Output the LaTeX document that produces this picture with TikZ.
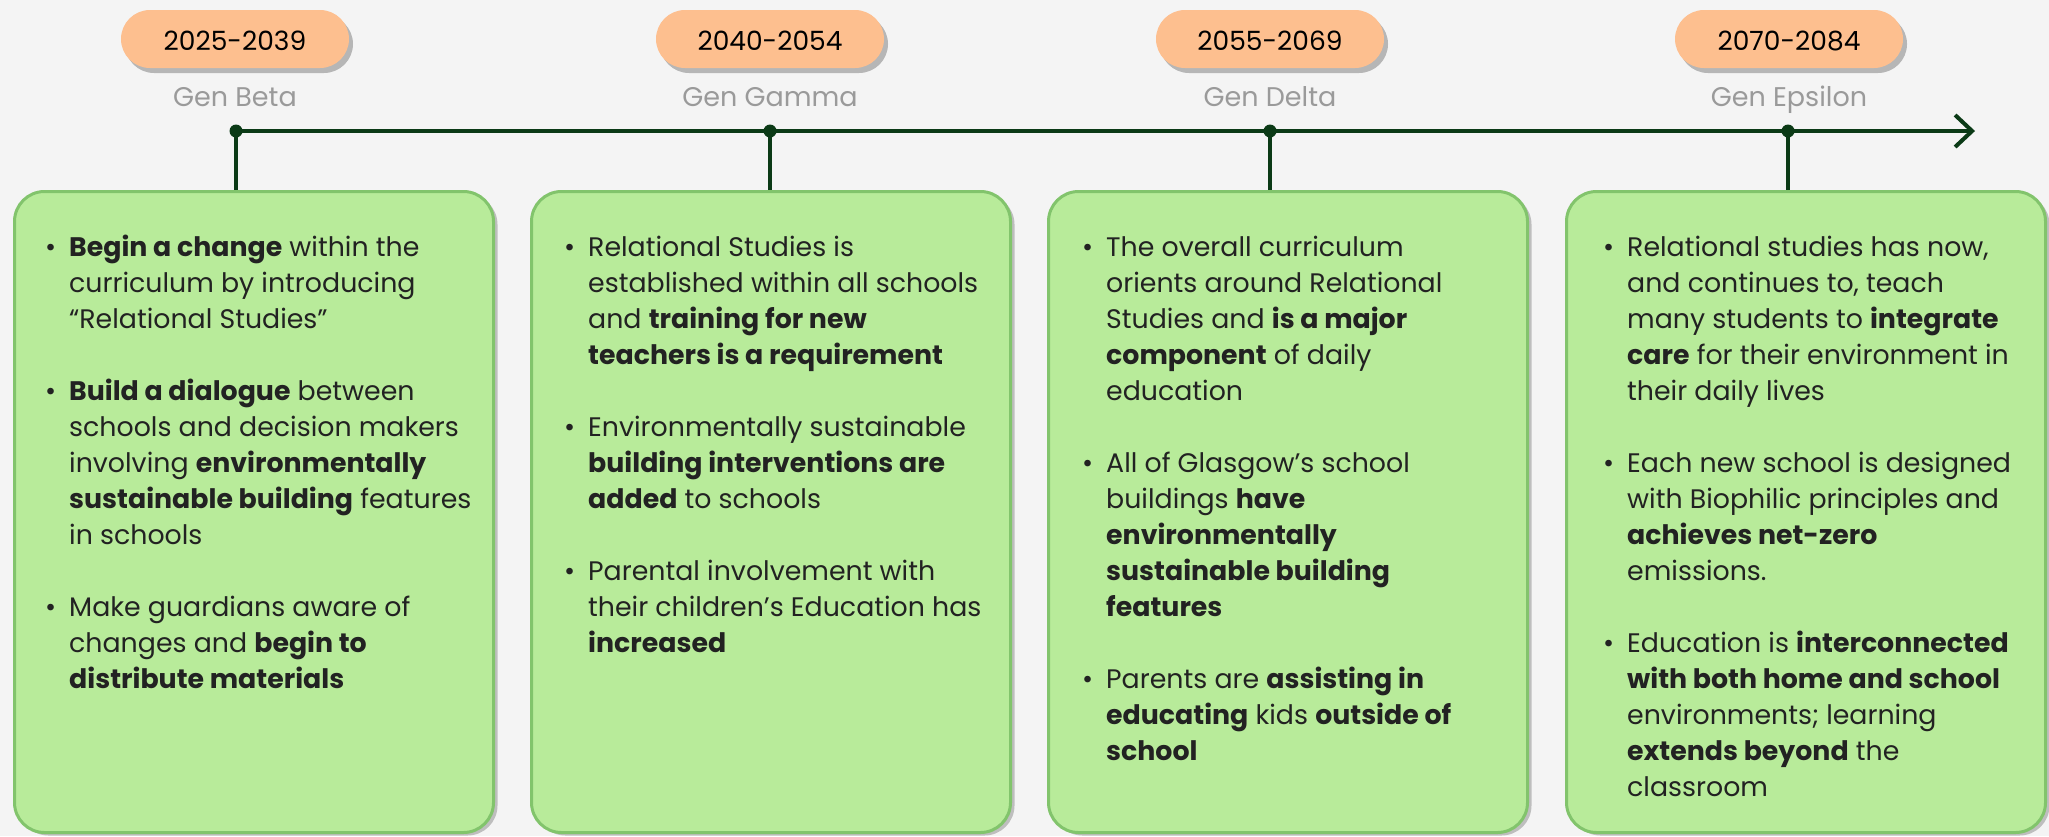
\documentclass[tikz,border=0pt]{standalone}
\usepackage{fontspec}
\setmainfont{Poppins}
\usetikzlibrary{arrows.meta,shadows}
\definecolor{bg}{HTML}{F4F4F4}
\definecolor{boxfill}{HTML}{B8EB9A}
\definecolor{boxline}{HTML}{82C46C}
\definecolor{pillfill}{HTML}{FDBF8F}
\definecolor{axiscol}{HTML}{0B3A16}
\definecolor{gentext}{HTML}{9A9A9A}
\definecolor{bodytext}{HTML}{222222}
\newcommand{\bpt}{\par\noindent\llap{\textbullet\hspace{13pt}}}
\newcommand{\bgap}{\par\vspace{36pt}}
\tikzset{
  phasebox/.style={draw=boxline, line width=3pt, fill=boxfill, rounded corners=30pt,
    minimum width=479pt, minimum height=641pt, anchor=north west, inner sep=0pt,
    drop shadow={shadow xshift=4pt, shadow yshift=-3pt, opacity=0.22, fill=black}},
  pill/.style={fill=pillfill, rounded corners=29pt, minimum width=228pt, minimum height=58pt,
    inner sep=0pt, drop shadow={shadow xshift=4pt, shadow yshift=-5pt, opacity=0.25, fill=black}},
  pilltext/.style={anchor=base, inner sep=0pt, text=black, font=\fontsize{26.5}{30}\selectfont},
  genlabel/.style={anchor=base, inner sep=0pt, text=gentext, font=\fontsize{27}{30}\selectfont},
  axisline/.style={draw=axiscol, line width=4pt},
  tickdot/.style={circle, fill=axiscol, minimum size=13pt, inner sep=0pt},
  bodytxt/.style={anchor=base west, inner sep=0pt, text=bodytext},
}
\newcommand{\bodybox}[1]{\parbox[t]{600pt}{\fontsize{26.8}{36}\selectfont\raggedright #1}}
\begin{document}
\begin{tikzpicture}[x=1pt,y=-1pt]
\fill[bg] (0,0) rectangle (2049,836);
\useasboundingbox (0,0) rectangle (2049,836);

% boxes
\node[phasebox] (b1) at (13,190) {};
\node[phasebox] (b2) at (530,190) {};
\node[phasebox] (b3) at (1047,190) {};
\node[phasebox] (b4) at (1565,190) {};

% pills
\node[pill] (p1) at (235,39) {};
\node[pill] (p2) at (770,39) {};
\node[pill] (p3) at (1270,39) {};
\node[pill] (p4) at (1789,39) {};
\node[pilltext] (pt1) at (235,50) {2025-2039};
\node[pilltext] (pt2) at (770,50) {2040-2054};
\node[pilltext] (pt3) at (1270,50) {2055-2069};
\node[pilltext] (pt4) at (1789,50) {2070-2084};

% generation labels
\node[genlabel] (g1) at (235,106) {Gen Beta};
\node[genlabel] (g2) at (770,106) {Gen Gamma};
\node[genlabel] (g3) at (1270,106) {Gen Delta};
\node[genlabel] (g4) at (1789,106) {Gen Epsilon};

% axis
\coordinate (d1c) at (236,131);
\coordinate (axend) at (1975,131);
\draw[axisline, -{Straight Barb[length=17pt,width=32pt,line width=4pt]}] (d1c) -- (axend);
\node[tickdot] (d1) at (236,131) {};
\node[tickdot] (d2) at (770,131) {};
\node[tickdot] (d3) at (1270,131) {};
\node[tickdot] (d4) at (1788,131) {};
\draw[axisline] (d1.center) -- (d1.center |- b1.north);
\draw[axisline] (d2.center) -- (d2.center |- b2.north);
\draw[axisline] (d3.center) -- (d3.center |- b3.north);
\draw[axisline] (d4.center) -- (d4.center |- b4.north);

% texts
\node[bodytxt] (t1) at (69,256) {\bodybox{%
\bpt\textbf{Begin a change} within the\\curriculum by introducing\\“Relational Studies”\bgap
\bpt\textbf{Build a dialogue} between\\schools and decision makers\\involving \textbf{environmentally}\\\textbf{sustainable building} features\\in schools\bgap
\bpt Make guardians aware of\\changes and \textbf{begin to}\\\textbf{distribute materials}\par}};

\node[bodytxt] (t2) at (588,256) {\bodybox{%
\bpt Relational Studies is\\established within all schools\\and \textbf{training for new}\\\textbf{teachers is a requirement}\bgap
\bpt Environmentally sustainable\\\textbf{building interventions are}\\\textbf{added} to schools\bgap
\bpt Parental involvement with\\their children’s Education has\\\textbf{increased}\par}};

\node[bodytxt] (t3) at (1106,256) {\bodybox{%
\bpt The overall curriculum\\orients around Relational\\Studies and \textbf{is a major}\\\textbf{component} of daily\\education\bgap
\bpt All of Glasgow’s school\\buildings \textbf{have}\\\textbf{environmentally}\\\textbf{sustainable building}\\\textbf{features}\bgap
\bpt Parents are \textbf{assisting in}\\\textbf{educating} kids \textbf{outside of}\\\textbf{school}\par}};

\node[bodytxt] (t4) at (1627,256) {\bodybox{%
\bpt Relational studies has now,\\and continues to, teach\\many students to \textbf{integrate}\\\textbf{care} for their environment in\\their daily lives\bgap
\bpt Each new school is designed\\with Biophilic principles and\\\textbf{achieves net-zero}\\emissions.\bgap
\bpt Education is \textbf{interconnected}\\\textbf{with both home and school}\\environments; learning\\\textbf{extends beyond} the\\classroom\par}};
\end{tikzpicture}
\end{document}
